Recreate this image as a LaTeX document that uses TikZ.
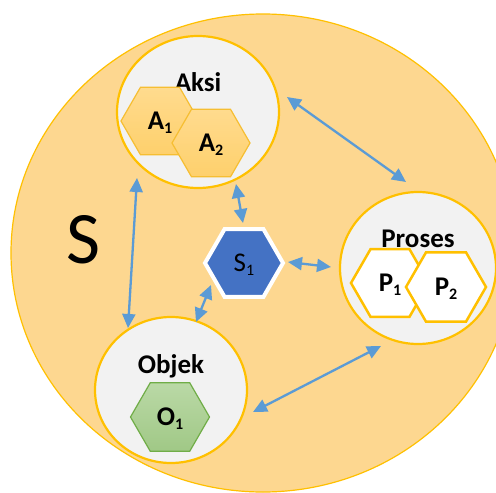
\documentclass[tikz,border=0pt]{standalone}
\usepackage{fontspec}
\setmainfont{Carlito}
\usetikzlibrary{arrows.meta,shapes.geometric,calc}
\definecolor{sysfill}{RGB}{253,215,144}
\definecolor{gold}{RGB}{255,192,0}
\definecolor{panel}{RGB}{242,242,242}
\definecolor{linkblue}{RGB}{91,155,213}
\definecolor{selfblue}{RGB}{68,114,196}
\definecolor{objgreen}{RGB}{112,173,71}
\definecolor{acttop}{RGB}{255,219,142}
\definecolor{actbot}{RGB}{254,208,108}
\definecolor{actline}{RGB}{246,190,50}
\definecolor{objtop}{RGB}{186,217,166}
\definecolor{objbot}{RGB}{160,200,134}
% lowered index digit
\newcommand\lowix[1]{\raisebox{-4pt}{\fontsize{16}{16}\selectfont #1}}

\begin{document}
\begin{tikzpicture}[x=1pt,y=-1pt,
  group/.style={ellipse, draw=gold, line width=2.2pt, fill=panel, inner sep=0pt},
  title/.style={anchor=base, inner sep=0pt, font=\fontsize{27}{27}\selectfont\bfseries},
  hexa/.style={regular polygon, regular polygon sides=6, inner sep=0pt,
    minimum size=78pt, text depth=0pt, font=\fontsize{27}{27}\selectfont\bfseries},
  acthex/.style={hexa, top color=acttop, bottom color=actbot, draw=actline, line width=1.2pt},
  prohex/.style={hexa, fill=white, draw=gold, line width=2.5pt},
  objhex/.style={hexa, top color=objtop, bottom color=objbot, draw=objgreen, line width=1.2pt},
  selfhex/.style={hexa, fill=selfblue, draw=white, line width=4pt, font=\fontsize{27}{27}\selectfont},
  link/.style={draw=linkblue, line width=2.3pt,
    {Triangle[length=14pt,width=13pt]}-{Triangle[length=14pt,width=13pt]}}
]
\useasboundingbox (0,0) rectangle (496,493);
\clip (0,0) rectangle (496,493);
\fill[white] (0,0) rectangle (496,493);

% the enclosing system
\node[ellipse, draw=gold, line width=1.2pt, fill=sysfill, inner sep=0pt,
      minimum width=504pt, minimum height=478pt] (sys) at (263,253) {};
\node[anchor=base, inner sep=0pt, font=\fontsize{74}{74}\selectfont] (slabel) at (84,263) {S};

% the three groups
\node[group, minimum width=162pt, minimum height=152pt] (aksi) at (198,112) {};
\node[group, minimum width=156pt, minimum height=152pt] (proses) at (418,268) {};
\node[group, minimum width=152pt, minimum height=146pt] (objek) at (171,390) {};

\node[title] (taksi) at (198,91) {Aksi};
\node[title] (tproses) at (418,247) {Proses};
\node[title] (tobjek) at (171,373) {Objek};

% members
\node[acthex] (a1) at (160,121) {A\lowix{1}};
\node[acthex] (a2) at (211,143) {A\lowix{2}};
\node[prohex] (p1) at (390,283) {P\lowix{1}};
\node[prohex, minimum size=80pt] (p2) at (446,287) {P\lowix{2}};
\node[objhex, minimum size=79pt] (o1) at (170,417) {O\lowix{1}};
\node[selfhex] (s1) at (244,263) {S\lowix{1}};

% links
\draw[link] ($(aksi)+(89,-15)$) -- ($(proses)+(-12,-86)$);
\draw[link] ($(aksi)+(-61,66)$) -- ($(objek)+(-43,-62)$);
\draw[link] ($(objek)+(82,22)$) -- ($(proses)+(-37,78)$);
\draw[link] ($(aksi)+(38,72)$) -- ($(s1)+(-1,-40)$);
\draw[link] ($(s1)+(44,-1)$) -- ($(proses)+(-87,-1)$);
\draw[link] ($(s1)+(-33,22)$) -- ($(objek)+(25,-68)$);
\end{tikzpicture}
\end{document}
